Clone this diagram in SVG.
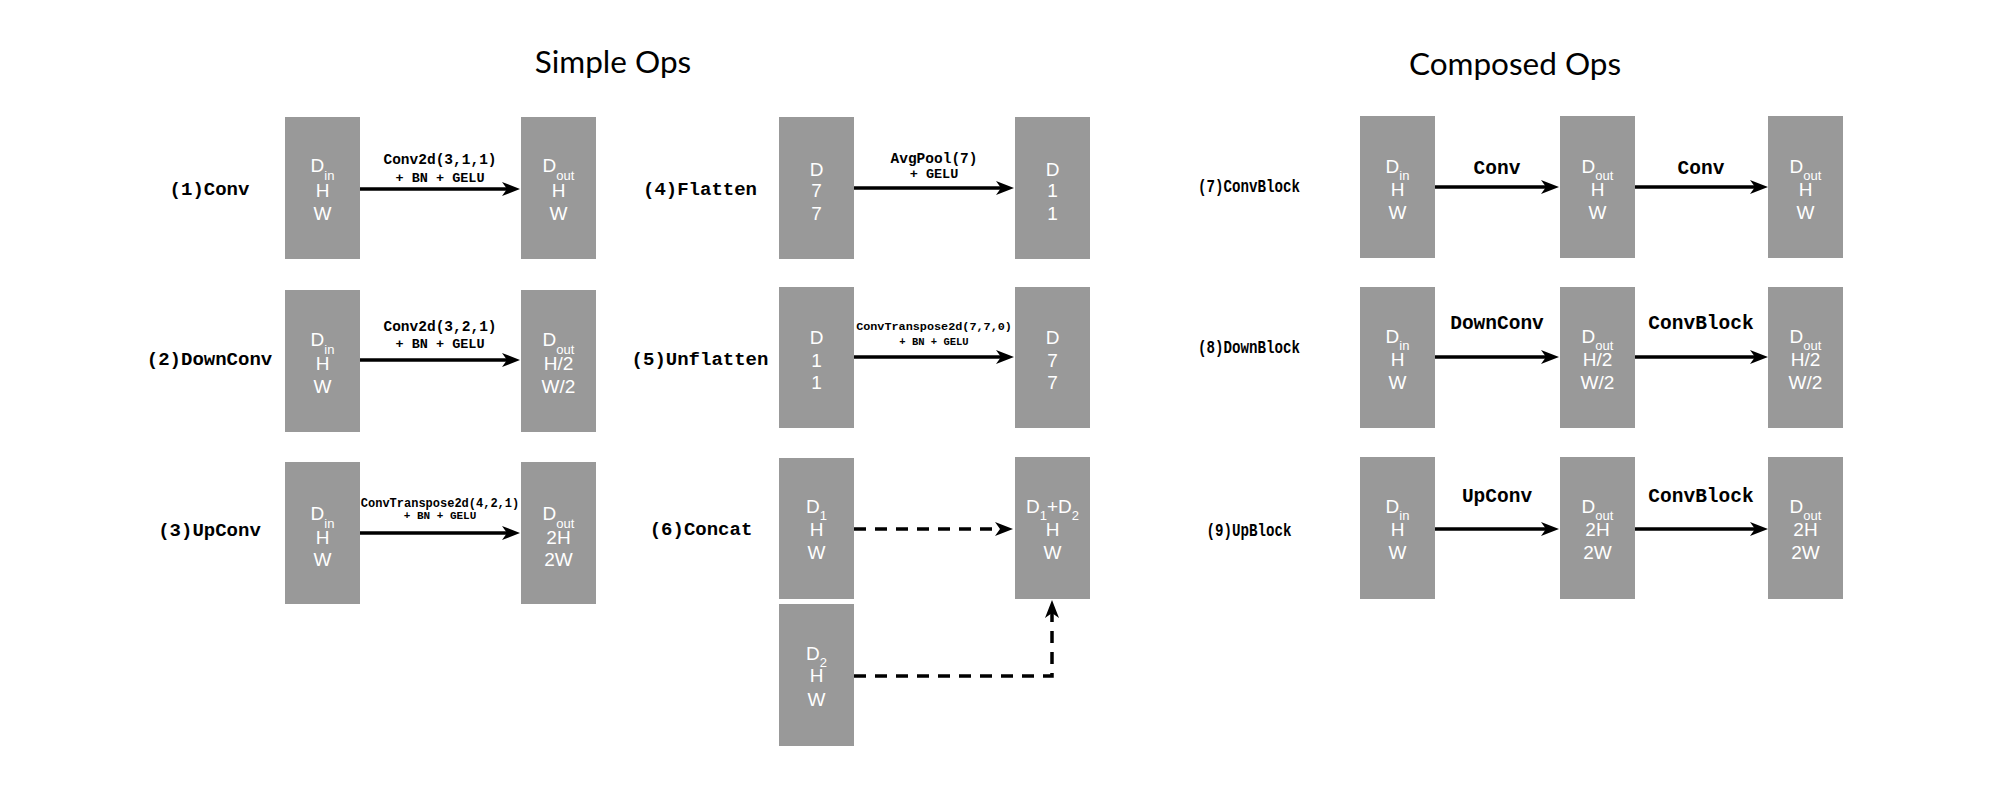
<svg xmlns="http://www.w3.org/2000/svg" width="2002" height="785" viewBox="0 0 2002 785">
<defs>
<marker id="ah" markerUnits="userSpaceOnUse" markerWidth="18" markerHeight="14" viewBox="0 0 18 14" refX="5" refY="7" orient="auto">
<path d="M0,0 L18,7 L0,14 L5,7 Z" fill="#000"/>
</marker>
<style>
.box{fill:#999999}
.bt{font-family:"Liberation Sans",Arial,sans-serif;font-size:19px;fill:#fff;text-anchor:middle}
.sub{font-size:13px}
.lab{font-family:"Liberation Mono","Courier New",monospace;font-weight:bold;font-size:19px;fill:#000;text-anchor:middle}
.lab2{font-family:"Liberation Mono","Courier New",monospace;font-weight:bold;font-size:19px;fill:#000;text-anchor:middle}
.op{font-family:"Liberation Mono","Courier New",monospace;font-weight:bold;fill:#000;text-anchor:middle}
.title{font-family:Lato,"Noto Sans",sans-serif;font-size:31.5px;fill:#000;text-anchor:middle}
.ar{fill:none;stroke:#000;stroke-width:3.5;marker-end:url(#ah)}
.da{fill:none;stroke:#000;stroke-width:3.5;stroke-dasharray:12 9;marker-end:url(#ah)}
</style>
</defs>
<rect width="2002" height="785" fill="#fff"/>

<text class="title" x="613" y="73">Simple Ops</text>
<text class="title" x="1515" y="75">Composed Ops</text>

<!-- row labels -->
<g id="labels">
<text class="lab" x="209.5" y="195">(1)Conv</text>
<text class="lab" x="209.5" y="365">(2)DownConv</text>
<text class="lab" x="209.5" y="536">(3)UpConv</text>
<text class="lab" x="700" y="195">(4)Flatten</text>
<text class="lab" x="700" y="365">(5)Unflatten</text>
<text class="lab" x="701" y="535">(6)Concat</text>
<text class="lab2" x="1249" y="192" textLength="102" lengthAdjust="spacingAndGlyphs">(7)ConvBlock</text>
<text class="lab2" x="1249" y="353" textLength="102" lengthAdjust="spacingAndGlyphs">(8)DownBlock</text>
<text class="lab2" x="1249" y="536" textLength="85" lengthAdjust="spacingAndGlyphs">(9)UpBlock</text>
</g>

<!-- connectors -->
<g id="connectors">
<path class="ar" d="M360,189 H507"/>
<path class="ar" d="M360,360 H507"/>
<path class="ar" d="M360,533 H507"/>
<path class="ar" d="M854,188 H1001"/>
<path class="ar" d="M854,357 H1001"/>
<path class="da" d="M854,529 H1000"/>
<path class="da" d="M854,676 H1052 V613"/>
<path class="ar" d="M1435,187 H1546"/>
<path class="ar" d="M1635,187 H1755"/>
<path class="ar" d="M1435,357 H1546"/>
<path class="ar" d="M1635,357 H1755"/>
<path class="ar" d="M1435,529 H1546"/>
<path class="ar" d="M1635,529 H1755"/>
<text class="op" x="440" y="164" font-size="14.5">Conv2d(3,1,1)</text>
<text class="op" x="440" y="182" font-size="13.5">+ BN + GELU</text>
<text class="op" x="440" y="331" font-size="14.5">Conv2d(3,2,1)</text>
<text class="op" x="440" y="348" font-size="13.5">+ BN + GELU</text>
<text class="op" x="440" y="507" font-size="12">ConvTranspose2d(4,2,1)</text>
<text class="op" x="440" y="519" font-size="11">+ BN + GELU</text>
<text class="op" x="934" y="163" font-size="14.5">AvgPool(7)</text>
<text class="op" x="934" y="178" font-size="13.5">+ GELU</text>
<text class="op" x="934" y="330" font-size="11.8">ConvTranspose2d(7,7,0)</text>
<text class="op" x="934" y="345" font-size="10.5">+ BN + GELU</text>
<text class="op" x="1497" y="174" font-size="19.5">Conv</text>
<text class="op" x="1701" y="174" font-size="19.5">Conv</text>
<text class="op" x="1497" y="329" font-size="19.5">DownConv</text>
<text class="op" x="1701" y="329" font-size="19.5">ConvBlock</text>
<text class="op" x="1497" y="502" font-size="19.5">UpConv</text>
<text class="op" x="1701" y="502" font-size="19.5">ConvBlock</text>
</g>

<!-- column 1 nodes -->
<g id="n1_in"><rect class="box" x="285" y="117" width="75" height="142"/>
<text class="bt" x="322.5" y="172">D<tspan class="sub" dy="8">in</tspan></text>
<text class="bt" x="322.5" y="197">H</text><text class="bt" x="322.5" y="220">W</text></g>
<g id="n1_out"><rect class="box" x="521" y="117" width="75" height="142"/>
<text class="bt" x="558.5" y="172">D<tspan class="sub" dy="8">out</tspan></text>
<text class="bt" x="558.5" y="197">H</text><text class="bt" x="558.5" y="220">W</text></g>

<g id="n2_in"><rect class="box" x="285" y="290" width="75" height="142"/>
<text class="bt" x="322.5" y="346">D<tspan class="sub" dy="8">in</tspan></text>
<text class="bt" x="322.5" y="370">H</text><text class="bt" x="322.5" y="393">W</text></g>
<g id="n2_out"><rect class="box" x="521" y="290" width="75" height="142"/>
<text class="bt" x="558.5" y="346">D<tspan class="sub" dy="8">out</tspan></text>
<text class="bt" x="558.5" y="370">H/2</text><text class="bt" x="558.5" y="393">W/2</text></g>

<g id="n3_in"><rect class="box" x="285" y="462" width="75" height="142"/>
<text class="bt" x="322.5" y="520">D<tspan class="sub" dy="8">in</tspan></text>
<text class="bt" x="322.5" y="544">H</text><text class="bt" x="322.5" y="566">W</text></g>
<g id="n3_out"><rect class="box" x="521" y="462" width="75" height="142"/>
<text class="bt" x="558.5" y="520">D<tspan class="sub" dy="8">out</tspan></text>
<text class="bt" x="558.5" y="544">2H</text><text class="bt" x="558.5" y="566">2W</text></g>

<!-- column 2 nodes -->
<g id="n4_in"><rect class="box" x="779" y="117" width="75" height="142"/>
<text class="bt" x="816.5" y="176">D</text><text class="bt" x="816.5" y="197">7</text><text class="bt" x="816.5" y="220">7</text></g>
<g id="n4_out"><rect class="box" x="1015" y="117" width="75" height="142"/>
<text class="bt" x="1052.5" y="176">D</text><text class="bt" x="1052.5" y="197">1</text><text class="bt" x="1052.5" y="220">1</text></g>

<g id="n5_in"><rect class="box" x="779" y="287" width="75" height="141"/>
<text class="bt" x="816.5" y="344">D</text><text class="bt" x="816.5" y="367">1</text><text class="bt" x="816.5" y="389">1</text></g>
<g id="n5_out"><rect class="box" x="1015" y="287" width="75" height="141"/>
<text class="bt" x="1052.5" y="344">D</text><text class="bt" x="1052.5" y="367">7</text><text class="bt" x="1052.5" y="389">7</text></g>

<g id="n6_in1"><rect class="box" x="779" y="458" width="75" height="141"/>
<text class="bt" x="816.5" y="513">D<tspan class="sub" dy="7">1</tspan></text>
<text class="bt" x="816.5" y="536">H</text><text class="bt" x="816.5" y="559">W</text></g>
<g id="n6_in2"><rect class="box" x="779" y="604" width="75" height="142"/>
<text class="bt" x="816.5" y="660">D<tspan class="sub" dy="7">2</tspan></text>
<text class="bt" x="816.5" y="682">H</text><text class="bt" x="816.5" y="706">W</text></g>
<g id="n6_out"><rect class="box" x="1015" y="457" width="75" height="142"/>
<text class="bt" x="1052.5" y="513">D<tspan class="sub" dy="7">1</tspan><tspan dy="-7">+D</tspan><tspan class="sub" dy="7">2</tspan></text>
<text class="bt" x="1052.5" y="536">H</text><text class="bt" x="1052.5" y="559">W</text></g>

<!-- column 3 nodes -->
<g id="n7_in"><rect class="box" x="1360" y="116" width="75" height="142"/>
<text class="bt" x="1397.5" y="173">D<tspan class="sub" dy="7">in</tspan></text>
<text class="bt" x="1397.5" y="196">H</text><text class="bt" x="1397.5" y="219">W</text></g>
<g id="n7_mid"><rect class="box" x="1560" y="116" width="75" height="142"/>
<text class="bt" x="1597.5" y="173">D<tspan class="sub" dy="7">out</tspan></text>
<text class="bt" x="1597.5" y="196">H</text><text class="bt" x="1597.5" y="219">W</text></g>
<g id="n7_out"><rect class="box" x="1768" y="116" width="75" height="142"/>
<text class="bt" x="1805.5" y="173">D<tspan class="sub" dy="7">out</tspan></text>
<text class="bt" x="1805.5" y="196">H</text><text class="bt" x="1805.5" y="219">W</text></g>

<g id="n8_in"><rect class="box" x="1360" y="287" width="75" height="141"/>
<text class="bt" x="1397.5" y="343">D<tspan class="sub" dy="7">in</tspan></text>
<text class="bt" x="1397.5" y="366">H</text><text class="bt" x="1397.5" y="389">W</text></g>
<g id="n8_mid"><rect class="box" x="1560" y="287" width="75" height="141"/>
<text class="bt" x="1597.5" y="343">D<tspan class="sub" dy="7">out</tspan></text>
<text class="bt" x="1597.5" y="366">H/2</text><text class="bt" x="1597.5" y="389">W/2</text></g>
<g id="n8_out"><rect class="box" x="1768" y="287" width="75" height="141"/>
<text class="bt" x="1805.5" y="343">D<tspan class="sub" dy="7">out</tspan></text>
<text class="bt" x="1805.5" y="366">H/2</text><text class="bt" x="1805.5" y="389">W/2</text></g>

<g id="n9_in"><rect class="box" x="1360" y="457" width="75" height="142"/>
<text class="bt" x="1397.5" y="513">D<tspan class="sub" dy="7">in</tspan></text>
<text class="bt" x="1397.5" y="536">H</text><text class="bt" x="1397.5" y="559">W</text></g>
<g id="n9_mid"><rect class="box" x="1560" y="457" width="75" height="142"/>
<text class="bt" x="1597.5" y="513">D<tspan class="sub" dy="7">out</tspan></text>
<text class="bt" x="1597.5" y="536">2H</text><text class="bt" x="1597.5" y="559">2W</text></g>
<g id="n9_out"><rect class="box" x="1768" y="457" width="75" height="142"/>
<text class="bt" x="1805.5" y="513">D<tspan class="sub" dy="7">out</tspan></text>
<text class="bt" x="1805.5" y="536">2H</text><text class="bt" x="1805.5" y="559">2W</text></g>
</svg>
